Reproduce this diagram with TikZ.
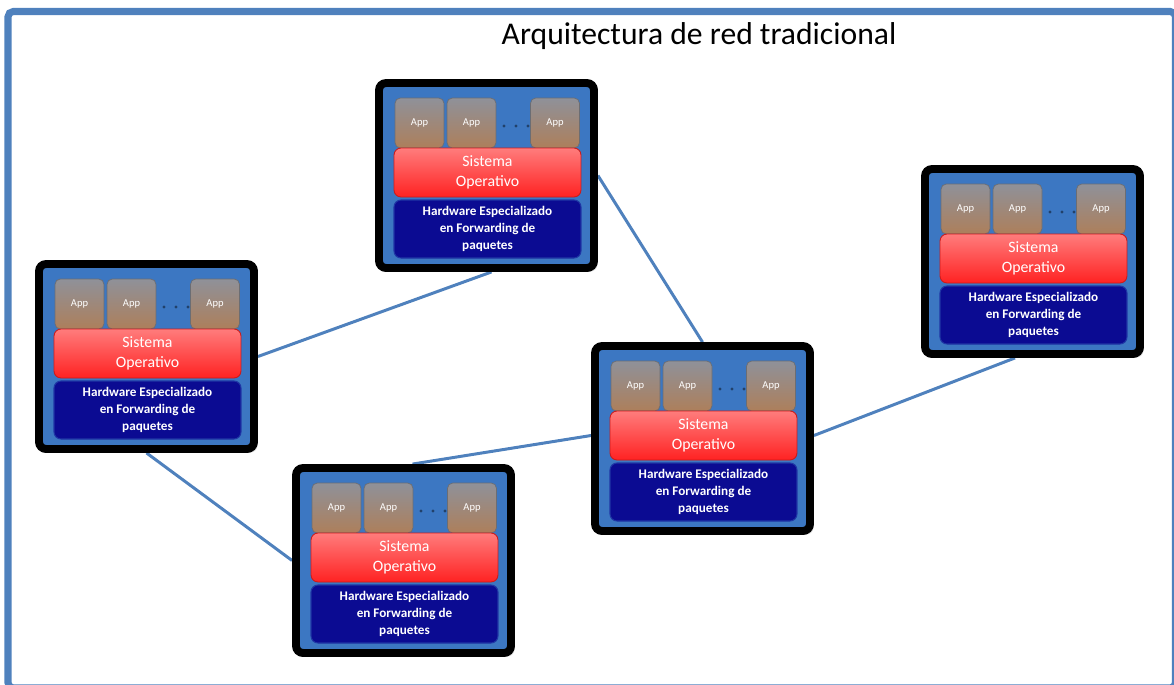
\documentclass[tikz,border=0pt]{standalone}
\usepackage{fontspec}
\setmainfont{Carlito}
\usepackage{xcolor}
\definecolor{arline}{HTML}{4F81BD}
\definecolor{arblue}{HTML}{3C77C2}
\definecolor{arapptop}{HTML}{8F9199}
\definecolor{arappbot}{HTML}{AD7F5B}
\definecolor{arostop}{HTML}{FF7C7C}
\definecolor{arosbot}{HTML}{FF2222}
\definecolor{arhw}{HTML}{0B0B92}
\usepackage{tikz}
\usetikzlibrary{calc,backgrounds,shadows}
\tikzset{
  arframe/.style={draw=arline, line width=4pt, rounded corners=3pt},
  artitle/.style={font=\fontsize{18}{22}\selectfont, text=black},
  arbox/.style  ={rectangle, rounded corners=4pt, draw=black, fill=arblue, line width=4.5pt,
                  minimum width=4.30cm, minimum height=3.70cm, inner sep=0pt,
                  drop shadow={opacity=0.3, shadow xshift=2pt, shadow yshift=-2pt}},
  arapp/.style  ={rectangle, rounded corners=3pt, top color=arapptop, bottom color=arappbot,
                  draw=arapptop!75!black, line width=0.4pt, minimum width=0.98cm,
                  minimum height=1.0cm, inner sep=0pt, text=white, font=\fontsize{6}{7}\selectfont},
  aros/.style   ={rectangle, rounded corners=4pt, top color=arostop, bottom color=arosbot,
                  draw=arosbot!80!black, line width=0.5pt, minimum width=3.74cm,
                  minimum height=0.98cm, inner sep=0pt, align=center, text=white,
                  font=\fontsize{9}{11.3}\selectfont},
  arhw/.style   ={rectangle, rounded corners=4pt, fill=arhw, draw=arhw!60!arblue,
                  line width=0.6pt, minimum width=3.74cm, minimum height=1.16cm, inner sep=0pt,
                  align=center, text=white, font=\bfseries\fontsize{7.5}{9.6}\selectfont},
  ardot/.style  ={circle, fill=arblue!55!black, inner sep=0pt, minimum size=1.8pt},
  arlink/.style ={draw=arline, line width=1.7pt},
}
\newcommand{\ardevice}[3]{%
  \node[arbox] (#1) at ({#2+111.5},{#3+96.5}) {};
  \node[arapp] (#1-a1) at ({#2+44.5},{#3+44}) {App};
  \node[arapp] (#1-a2) at ({#2+96.5},{#3+44}) {App};
  \foreach \k in {0,1,2}{\node[ardot] at ({#2+129+12*\k},{#3+47}) {};}
  \node[arapp] (#1-a3) at ({#2+180},{#3+44}) {App};
  \node[aros] (#1-os) at ({#2+112.5},{#3+93.5}) {Sistema\\Operativo};
  \node[arhw] (#1-hw) at ({#2+112.5},{#3+150})
    {Hardware Especializado\\en Forwarding de\\paquetes};
}

\begin{document}
\begin{tikzpicture}[x=0.02cm, y=-0.02cm]
  \useasboundingbox (0,0) rectangle (1174,684);
  \clip (0,0) rectangle (1174,684);
  \draw[arframe] (8,11.5) rectangle (1175.5,688);
  \node[artitle] (title) at (699,36) {Arquitectura de red tradicional};
  \ardevice{rtop}{375}{79}
  \ardevice{rleft}{35}{260}
  \ardevice{rbottom}{292}{464}
  \ardevice{rmid}{591}{342}
  \ardevice{rright}{921}{165}
  % enlaces entre equipos
  \begin{scope}[on background layer]
    \draw[arlink] (rtop.east) -- (rmid.north);
    \draw[arlink] (rleft.east) -- ([xshift=0.1cm]rtop.south);
    \draw[arlink] (rleft.south) -- (rbottom.west);
    \draw[arlink] ([xshift=0.18cm]rbottom.north) -- ([yshift=0.06cm]rmid.west);
    \draw[arlink] ([yshift=0.06cm]rmid.east) -- ([xshift=-0.35cm]rright.south);
  \end{scope}
\end{tikzpicture}
\end{document}
